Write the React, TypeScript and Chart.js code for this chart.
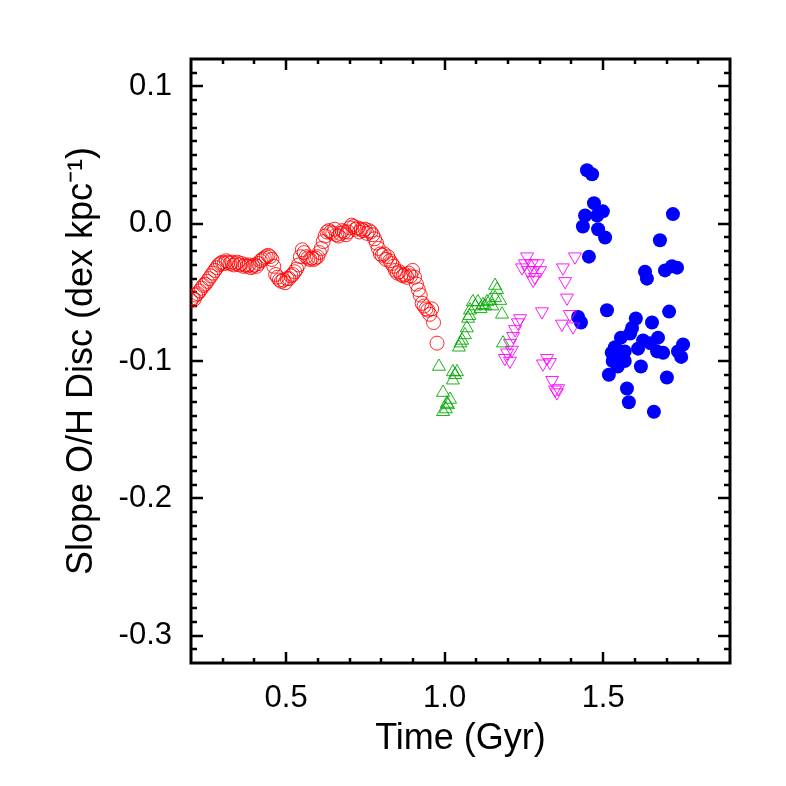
import React, { useEffect, useRef } from "react";
import { Chart, registerables } from "chart.js";

Chart.register(...registerables);

// ---------- data ----------
const redTime = [
  0.200, 0.205, 0.210, 0.215, 0.221, 0.227, 0.233, 0.239, 0.245, 0.251,
  0.257, 0.263, 0.269, 0.275, 0.281, 0.287, 0.293, 0.299, 0.305, 0.311,
  0.317, 0.323, 0.329, 0.335, 0.341, 0.347, 0.353, 0.359, 0.365, 0.371,
  0.377, 0.383, 0.389, 0.395, 0.401, 0.407, 0.413, 0.419, 0.425, 0.431,
  0.437, 0.443, 0.449, 0.455, 0.461, 0.467, 0.473, 0.479, 0.485, 0.491,
  0.497, 0.503, 0.509, 0.515, 0.521, 0.527, 0.533, 0.539, 0.545, 0.551,
  0.557, 0.563, 0.569, 0.575, 0.581, 0.587, 0.593, 0.599, 0.605, 0.611,
  0.617, 0.623, 0.629, 0.635, 0.641, 0.647, 0.653, 0.659, 0.665, 0.671,
  0.677, 0.683, 0.689, 0.695, 0.701, 0.707, 0.713, 0.719, 0.725, 0.731,
  0.737, 0.743, 0.749, 0.755, 0.761, 0.767, 0.773, 0.779, 0.785, 0.791,
  0.797, 0.803, 0.809, 0.815, 0.821, 0.827, 0.833, 0.839, 0.845, 0.851,
  0.857, 0.863, 0.869, 0.875, 0.881, 0.887, 0.893, 0.899, 0.905, 0.911,
  0.917, 0.923, 0.929, 0.935, 0.941, 0.947, 0.953, 0.959, 0.965, 0.976,
];
const redSlope = [
  -0.056, -0.054, -0.055, -0.052, -0.051, -0.049, -0.047, -0.045, -0.044, -0.042,
  -0.040, -0.038, -0.036, -0.034, -0.032, -0.030, -0.029, -0.028, -0.029, -0.027,
  -0.028, -0.029, -0.028, -0.030, -0.029, -0.028, -0.030, -0.029, -0.031, -0.030,
  -0.031, -0.030, -0.032, -0.031, -0.030, -0.031, -0.029, -0.027, -0.026, -0.025,
  -0.024, -0.023, -0.024, -0.026, -0.031, -0.037, -0.039, -0.041, -0.042, -0.041,
  -0.043, -0.040, -0.040, -0.038, -0.037, -0.035, -0.033, -0.030, -0.024, -0.019,
  -0.021, -0.024, -0.025, -0.026, -0.025, -0.026, -0.025, -0.024, -0.021, -0.018,
  -0.013, -0.009, -0.006, -0.005, -0.006, -0.007, -0.004, -0.008, -0.009, -0.007,
  -0.005, -0.006, -0.008, -0.006, -0.003, -0.001, -0.002, -0.004, -0.003, -0.006,
  -0.004, -0.005, -0.004, -0.007, -0.005, -0.006, -0.008, -0.011, -0.014, -0.018,
  -0.022, -0.023, -0.022, -0.026, -0.024, -0.027, -0.029, -0.031, -0.034, -0.036,
  -0.035, -0.037, -0.038, -0.037, -0.039, -0.036, -0.038, -0.034, -0.039, -0.044,
  -0.048, -0.052, -0.058, -0.060, -0.062, -0.063, -0.066, -0.062, -0.072, -0.087,
];

const greenTime = [
  0.982, 0.995, 1.007, 0.995, 1.004, 1.011, 1.017, 1.026, 1.026, 1.039,
  1.033, 1.045, 1.050, 1.055, 1.064, 1.070, 1.074, 1.078, 1.080, 1.089,
  1.097, 1.105, 1.113, 1.121, 1.128, 1.134, 1.143, 1.150, 1.159, 1.159,
  1.165, 1.175, 1.181, 1.184,
];
const greenSlope = [
  -0.104, -0.123, -0.131, -0.137, -0.135, -0.132, -0.128, -0.114, -0.108, -0.108,
  -0.110, -0.090, -0.087, -0.085, -0.081, -0.076, -0.069, -0.067, -0.063, -0.057,
  -0.060, -0.057, -0.062, -0.059, -0.060, -0.057, -0.056, -0.060, -0.054, -0.045,
  -0.048, -0.056, -0.066, -0.087,
];

const magentaTime = [
  1.190, 1.197, 1.206, 1.212, 1.206, 1.216, 1.222, 1.231, 1.238, 1.244,
  1.253, 1.260, 1.263, 1.275, 1.279, 1.285, 1.294, 1.301, 1.279, 1.307,
  1.323, 1.310, 1.332, 1.339, 1.348, 1.354, 1.358, 1.370, 1.373, 1.380,
  1.386, 1.395, 1.405, 1.411,
];
const magentaSlope = [
  -0.098, -0.094, -0.087, -0.092, -0.100, -0.082, -0.077, -0.072, -0.069, -0.032,
  -0.029, -0.024, -0.034, -0.029, -0.034, -0.039, -0.029, -0.034, -0.041, -0.064,
  -0.098, -0.102, -0.101, -0.114, -0.121, -0.123, -0.120, -0.073, -0.032, -0.042,
  -0.054, -0.066, -0.075, -0.024,
];

const blueTime = [
  1.449, 1.465, 1.471, 1.499, 1.443, 1.481, 1.436, 1.484, 1.506, 1.455,
  1.720, 1.679, 1.632, 1.638, 1.695, 1.717, 1.733, 1.421, 1.430, 1.512,
  1.603, 1.591, 1.585, 1.654, 1.708, 1.556, 1.626, 1.673, 1.648, 1.537,
  1.527, 1.553, 1.568, 1.530, 1.568, 1.546, 1.610, 1.670, 1.689, 1.752,
  1.736, 1.746, 1.619, 1.518, 1.701, 1.575, 1.581, 1.660,
];
const blueSlope = [
  0.039, 0.036, 0.015, 0.009, 0.006, 0.006, -0.002, -0.004, -0.010, -0.024,
  0.007, -0.012, -0.035, -0.040, -0.034, -0.031, -0.032, -0.068, -0.072, -0.063,
  -0.069, -0.076, -0.080, -0.072, -0.064, -0.083, -0.085, -0.083, -0.087, -0.090,
  -0.094, -0.093, -0.093, -0.100, -0.100, -0.104, -0.091, -0.093, -0.094, -0.088,
  -0.093, -0.097, -0.104, -0.110, -0.112, -0.120, -0.130, -0.137,
];

const xMajorTicks = [0.5, 1.0, 1.5];
const yMajorTicks = [0.1, 0.0, -0.1, -0.2, -0.3];
const xRange = [0.2, 1.9];
const yRange = [-0.32, 0.12];

const FONT = "'Liberation Sans', Arial, Helvetica, sans-serif";

function pts(xs: number[], ys: number[]) {
  return xs.map((x, i) => ({ x, y: ys[i] }));
}

const framePlugin = {
  id: "idlFrame",
  beforeDatasetsDraw(chart: any) {
    const { ctx, chartArea } = chart;
    const xs = chart.scales.x;
    const ys = chart.scales.y;
    const { left, right, top, bottom } = chartArea;
    ctx.save();
    ctx.strokeStyle = "#000";
    ctx.lineCap = "butt";
    ctx.lineWidth = 2.5;
    const xMinor: number[] = [];
    for (let i = 3; i < 19; i++) xMinor.push(i / 10);
    xMinor.forEach((v) => {
      const isMajor = xMajorTicks.some((m) => Math.abs(m - v) < 1e-6);
      const len = isMajor ? 11 : 5;
      const px = Math.round(xs.getPixelForValue(v));
      ctx.beginPath();
      ctx.moveTo(px, bottom);
      ctx.lineTo(px, bottom - len);
      ctx.moveTo(px, top);
      ctx.lineTo(px, top + len);
      ctx.stroke();
    });
    for (let i = -31; i <= 11; i++) {
      const v = i / 100;
      const isMajor = i % 10 === 0;
      const len = isMajor ? 12 : 6;
      const py = Math.round(ys.getPixelForValue(v));
      ctx.beginPath();
      ctx.moveTo(left, py);
      ctx.lineTo(left + len, py);
      ctx.moveTo(right, py);
      ctx.lineTo(right - len, py);
      ctx.stroke();
    }
    ctx.lineWidth = 3;
    ctx.strokeRect(left, top, right - left, bottom - top);
    ctx.restore();
  },
};

export default function App() {
  const ref = useRef<HTMLCanvasElement>(null);
  useEffect(() => {
    if (!ref.current) return;
    const chart = new Chart(ref.current, {
      type: "scatter",
      data: {
        datasets: [
          {
            data: pts(redTime, redSlope),
            pointStyle: "circle",
            pointRadius: 7,
            pointBorderWidth: 1,
            pointBorderColor: "rgba(255,0,0,0.85)",
            pointBackgroundColor: "rgba(0,0,0,0)",
          },
          {
            data: pts(greenTime, greenSlope),
            pointStyle: "triangle",
            pointRadius: 7.5,
            pointBorderWidth: 1,
            pointBorderColor: "rgba(0,170,0,0.9)",
            pointBackgroundColor: "rgba(0,0,0,0)",
          },
          {
            data: pts(magentaTime, magentaSlope),
            pointStyle: "triangle",
            pointRotation: 180,
            pointRadius: 7.5,
            pointBorderWidth: 1,
            pointBorderColor: "rgba(255,0,255,0.9)",
            pointBackgroundColor: "rgba(0,0,0,0)",
          },
          {
            data: pts(blueTime, blueSlope),
            pointStyle: "circle",
            pointRadius: 7,
            pointBorderWidth: 0,
            pointBorderColor: "#0000ff",
            pointBackgroundColor: "#0000ff",
          },
        ],
      },
      options: {
        responsive: false,
        animation: false,
        events: [],
        layout: { padding: { left: 0, right: 56, top: 59, bottom: 0 } },
        plugins: { legend: { display: false }, tooltip: { enabled: false } },
        scales: {
          x: {
            type: "linear",
            min: xRange[0],
            max: xRange[1],
            afterBuildTicks: (axis: any) => {
              axis.ticks = xMajorTicks.map((v) => ({ value: v }));
            },
            afterFit: (axis: any) => {
              axis.height = 123;
            },
            grid: { display: false, drawTicks: false },
            border: { display: false },
            ticks: {
              color: "#000",
              font: { family: FONT, size: 31 },
              padding: 17,
              maxRotation: 0,
              callback: (v: any) => Number(v).toFixed(1),
            },
            title: {
              display: true,
              text: "Time (Gyr)",
              color: "#000",
              font: { family: FONT, size: 36 },
              padding: { top: 0, bottom: 25 },
            },
          },
          y: {
            type: "linear",
            min: yRange[0],
            max: yRange[1],
            afterBuildTicks: (axis: any) => {
              axis.ticks = yMajorTicks.map((v) => ({ value: v }));
            },
            afterFit: (axis: any) => {
              axis.width = 191;
            },
            grid: { display: false, drawTicks: false },
            border: { display: false },
            ticks: {
              color: "#000",
              font: { family: FONT, size: 31 },
              padding: 19,
              callback: (v: any) => Number(v).toFixed(1),
            },
            title: {
              display: true,
              text: "Slope O/H Disc (dex kpc\u207B\u00B9)",
              color: "#000",
              font: { family: FONT, size: 36 },
              padding: { top: 60, bottom: 0 },
            },
          },
        },
      },
      plugins: [framePlugin],
    });
    return () => chart.destroy();
  }, []);
  return (
    <div style={{ position: "fixed", left: 0, top: 0, width: 786, height: 786, background: "#fff" }}>
      <canvas ref={ref} width={786} height={786} />
    </div>
  );
}
